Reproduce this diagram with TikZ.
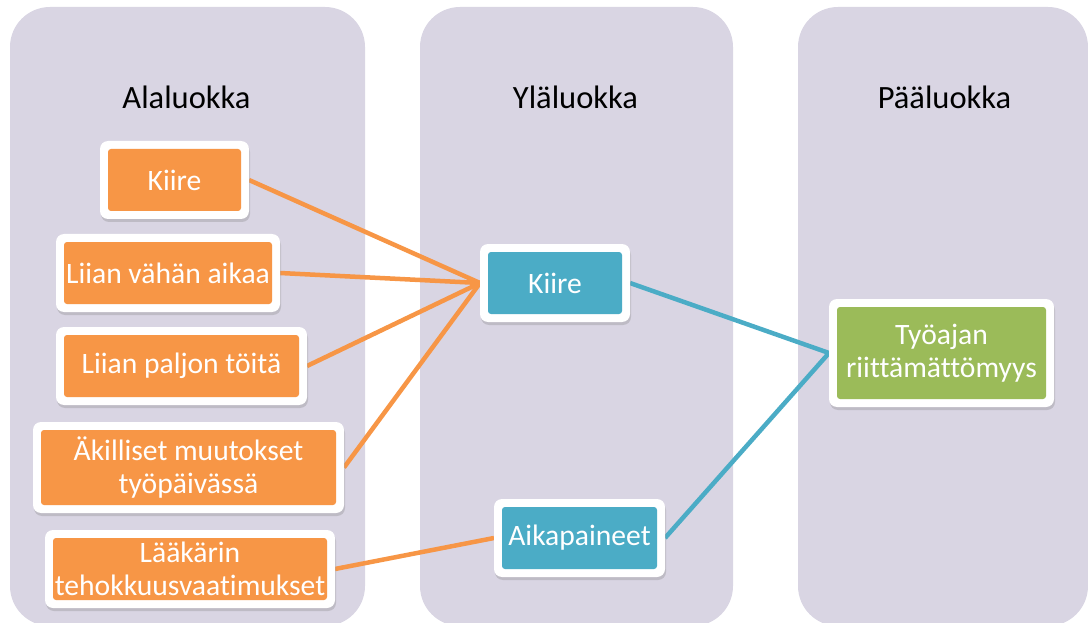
\documentclass[tikz,border=0pt]{standalone}
\usepackage{fontspec}
\setmainfont{Carlito}[Ligatures=NoCommon]
\usetikzlibrary{shadows}

\definecolor{panelfill}{RGB}{217,213,227}
\definecolor{orangefill}{RGB}{247,150,70}
\definecolor{bluefill}{RGB}{75,172,198}
\definecolor{greenfill}{RGB}{155,187,89}

\newcommand\cardfont{\fontsize{29.6}{33}\selectfont}
\newcommand\headfont{\fontsize{32.5}{38}\selectfont}

\pgfdeclarelayer{panels}
\pgfdeclarelayer{links}
\pgfsetlayers{panels,links,main}

\tikzset{
  panel/.style={fill=panelfill, rounded corners=40pt},
  heading/.style={anchor=base, font=\headfont, text=black, inner sep=0pt},
  card/.style={fill=white, rounded corners=8pt, inner sep=0pt, outer sep=0pt,
    font=\cardfont, text=white, align=center,
    drop shadow={opacity=0.3, shadow xshift=1pt, shadow yshift=-3pt}},
  cardfill/.style={card, path picture={
    \fill[#1, rounded corners=3pt]
      ([shift={(8pt,-8pt)}]path picture bounding box.north west) rectangle
      ([shift={(-8pt,8pt)}]path picture bounding box.south east);}},
  link/.style={line width=4.5pt, draw=#1},
}

\begin{document}
\begin{tikzpicture}[x=1pt, y=-1pt]
\useasboundingbox (0,0) rectangle (1088,623);

% three category panels
\begin{pgfonlayer}{panels}
  \fill[panel] (10,7) rectangle (365,626);
  \fill[panel] (420,7) rectangle (733,626);
  \fill[panel] (798,7) rectangle (1088,626);
\end{pgfonlayer}

\node[heading] (h1) at (186.5,109) {Alaluokka};
\node[heading] (h2) at (575.5,109) {Yläluokka};
\node[heading] (h3) at (944.5,109) {Pääluokka};

% sub-categories
\node[cardfill=orangefill, minimum width=149pt, minimum height=78pt] (s1) at (174.5,180) {Kiire};
\node[cardfill=orangefill, minimum width=224pt, minimum height=78pt] (s2) at (168,273) {Liian vähän aikaa};
\node[cardfill=orangefill, minimum width=251pt, minimum height=78pt] (s3) at (181.5,366) {Liian paljon töitä};
\node[cardfill=orangefill, minimum width=311pt, minimum height=91pt] (s4) at (188.5,467.5) {Äkilliset muutokset\\työpäivässä};
\node[cardfill=orangefill, minimum width=290pt, minimum height=78pt] (s5) at (190,569) {Lääkärin\\tehokkuusvaatimukset};

% upper categories
\node[cardfill=bluefill, minimum width=150pt, minimum height=78pt] (u1) at (555,283) {Kiire};
\node[cardfill=bluefill, minimum width=171pt, minimum height=78pt] (u2) at (579.5,538) {Aikapaineet};

% main category
\node[cardfill=greenfill, minimum width=225pt, minimum height=108pt] (m1) at (941.5,353) {Työajan\\riittämättömyys};

% connectors
\begin{pgfonlayer}{links}
  \draw[link=orangefill] (s1.east) -- (u1.west);
  \draw[link=orangefill] (s2.east) -- (u1.west);
  \draw[link=orangefill] (s3.east) -- (u1.west);
  \draw[link=orangefill] (s4.east) -- (u1.west);
  \draw[link=orangefill] (s5.east) -- (u2.west);
  \draw[link=bluefill] (u1.east) -- (m1.west);
  \draw[link=bluefill] (u2.east) -- (m1.west);
\end{pgfonlayer}
\end{tikzpicture}
\end{document}
